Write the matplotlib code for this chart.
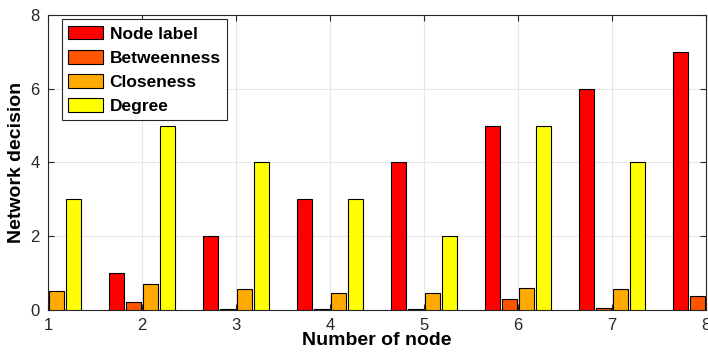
import numpy as np
import matplotlib
matplotlib.use('Agg')
import matplotlib.pyplot as plt

plt.rcParams['font.family'] = ['Liberation Sans', 'DejaVu Sans']

nodes = [1, 2, 3, 4, 5, 6, 7, 8]
node_label = [0, 1, 2, 3, 4, 5, 6, 7]
betweenness = [0, 0.2, 0.03, 0.01, 0.01, 0.3, 0.06, 0.37]
closeness = [0.5, 0.7, 0.57, 0.47, 0.47, 0.6, 0.57, 0.5]
degree = [3, 5, 4, 3, 2, 5, 4, 3]

series = [
    ('Node label', node_label, (1, 0, 0)),
    ('Betweenness', betweenness, (1, 1/3, 0)),
    ('Closeness', closeness, (1, 2/3, 0)),
    ('Degree', degree, (1, 1, 0)),
]

fig = plt.figure(figsize=(7.08, 3.59), dpi=100)
ax = fig.add_axes([0.068, 0.137, 0.929, 0.821])

x = np.array(nodes)
width = 0.16
step = 0.18
for i, (name, vals, col) in enumerate(series):
    off = (i - 1.5) * step
    ax.bar(x + off, vals, width, color=col, edgecolor='black', linewidth=0.8,
           label=name, zorder=3)

ax.set_xlim(1, 8)
ax.set_ylim(0, 8)
ax.set_xticks(nodes)
ax.set_yticks([0, 2, 4, 6, 8])
ax.grid(True, color='#e6e6e6', linewidth=0.8, zorder=0)
ax.tick_params(direction='in', labelsize=12, colors='#262626', length=4,
               top=True, right=True, pad=6)
for s in ax.spines.values():
    s.set_color('#262626')
    s.set_linewidth(0.8)

ax.set_xlabel('Number of node', fontsize=14, fontweight='bold', labelpad=-1)
ax.set_ylabel('Network decision', fontsize=14, fontweight='bold', labelpad=4)

leg = ax.legend(loc='upper left', bbox_to_anchor=(0.021, 0.985),
                prop={'weight': 'bold', 'size': 12.5}, fancybox=False,
                edgecolor='#262626', framealpha=1, handlelength=2.0,
                handleheight=0.85, handletextpad=0.4, borderpad=0.35,
                labelspacing=0.48, borderaxespad=0)
leg.get_frame().set_linewidth(0.8)

fig.savefig('out.png', dpi=100)
